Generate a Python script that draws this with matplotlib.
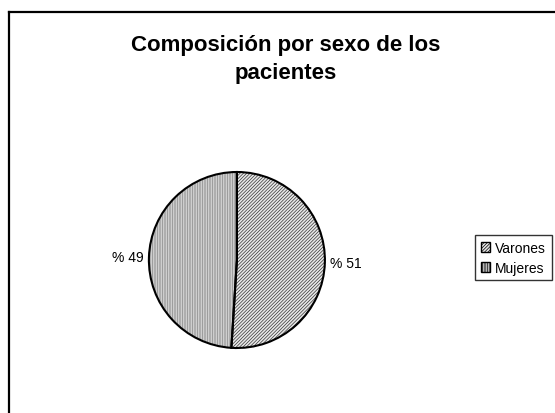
import matplotlib.pyplot as plt
from matplotlib.lines import Line2D

plt.rcParams['font.family'] = ['Liberation Sans', 'DejaVu Sans']
plt.rcParams['hatch.linewidth'] = 0.5

categorias = ['Varones', 'Mujeres']
valores = [51, 49]
etiquetas = ['% 51', '% 49']
hatches = ['//////////', '||||||||||']
colores = ['#e8e8e8', '#e0e0e0']
color_rayado = ['#333333', '#808080']

fig = plt.figure(figsize=(5.55, 4.14), dpi=100)
fig.patch.set_facecolor('white')

# marco del grafico (recortado a derecha y abajo)
fig.add_artist(Line2D([9/555, 9/555], [0, 1 - 13/414], color='black', lw=1.6, transform=fig.transFigure))
fig.add_artist(Line2D([9/555, 1], [1 - 13/414, 1 - 13/414], color='black', lw=1.6, transform=fig.transFigure))

ax = fig.add_axes([0.189, 0.0507, 0.4757, 0.6377])
# relleno rayado
wedges, textos = ax.pie(valores, labels=etiquetas, startangle=90, counterclock=False,
                        colors=colores, labeldistance=1.06,
                        wedgeprops=dict(linewidth=0),
                        textprops=dict(fontsize=10))
for w, h, c in zip(wedges, hatches, color_rayado):
    w.set_hatch(h)
    w.set_edgecolor(c)
    w.set_linewidth(0)
# contorno negro
bordes, _ = ax.pie(valores, startangle=90, counterclock=False,
                   wedgeprops=dict(fill=False, edgecolor='black', linewidth=1.5))
ax.set_xlim(-1.5, 1.5)
ax.set_ylim(-1.5, 1.5)
ax.set_aspect('equal')
ax.axis('off')

fig.text(286/555, 1 - 46/414, 'Composición por sexo de los', ha='center', va='center',
         fontsize=16, fontweight='bold')
fig.text(286/555, 1 - 73/414, 'pacientes', ha='center', va='center',
         fontsize=16, fontweight='bold')

leg = fig.legend(wedges, categorias, loc='upper left', bbox_to_anchor=(475/555, 1 - 236/414),
                 fontsize=10, frameon=True, fancybox=False, handlelength=0.7, handleheight=0.7,
                 handletextpad=0.35, borderpad=0.4, labelspacing=0.45, borderaxespad=0)
leg.get_frame().set_edgecolor('black')
leg.get_frame().set_linewidth(1.0)
for h in leg.legend_handles:
    h.set_linewidth(1.0)
    h.set_edgecolor('black')

fig.savefig('out.png', dpi=100)
